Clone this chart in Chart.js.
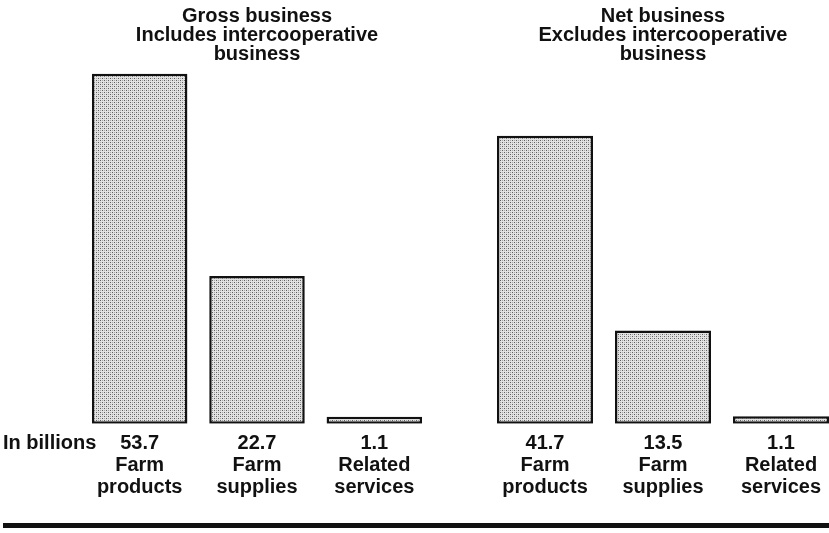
<!DOCTYPE html>
<html>
<head>
<meta charset="utf-8">
<script src="https://cdn.jsdelivr.net/npm/chart.js@4/dist/chart.umd.min.js"></script>
<style>
  html, body { margin: 0; padding: 0; background: #fff; overflow: hidden; }
  #wrap { position: relative; width: 829px; height: 533px; overflow: hidden; }
  #grossBox { position: absolute; left: 0; top: 0; width: 440px; height: 533px; }
  #netBox { position: absolute; left: 440px; top: 0; width: 400px; height: 533px; }
  #rule { position: absolute; left: 3px; top: 523px; width: 826px; height: 5px; background: #111; }
</style>
</head>
<body>
<div id="wrap">
  <div id="grossBox"><canvas id="grossChart"></canvas></div>
  <div id="netBox"><canvas id="netChart"></canvas></div>
  <div id="rule"></div>
</div>
<script>
"use strict";

const categories = [["Farm", "products"], ["Farm", "supplies"], ["Related", "services"]];
const grossValues = [53.7, 22.7, 1.1];
const netValues = [41.7, 13.5, 1.1];
const grossTitle = ["Gross business", "Includes intercooperative", "business"];
const netTitle = ["Net business", "Excludes intercooperative", "business"];
const unitLabel = "In billions";

Chart.defaults.font.family = "'Liberation Sans', Arial, sans-serif";
Chart.defaults.font.weight = "bold";
Chart.defaults.color = "#111";

// dotted screen fill like the printed original
function stipple() {
  const c = document.createElement("canvas");
  c.width = 4;
  c.height = 4;
  const g = c.getContext("2d");
  g.fillStyle = "#e2e2e2";
  g.fillRect(0, 0, 4, 4);
  g.fillStyle = "#5e5e5e";
  g.fillRect(0, 0, 1, 1);
  g.fillRect(2, 2, 1, 1);
  g.fillStyle = "#a8a8a8";
  g.fillRect(2, 0, 1, 1);
  g.fillRect(0, 2, 1, 1);
  return g.createPattern(c, "repeat");
}

const unitLabelPlugin = {
  id: "unitLabel",
  afterDraw(chart) {
    const ctx = chart.ctx;
    ctx.save();
    ctx.font = "bold 20px 'Liberation Sans', Arial, sans-serif";
    ctx.fillStyle = "#111";
    ctx.textAlign = "left";
    ctx.textBaseline = "middle";
    ctx.fillText(unitLabel, 3, chart.chartArea.bottom + 20);
    ctx.restore();
  },
};

function makeChart(id, values, title, yMax, padLeft, padRight, plugins) {
  const ctx = document.getElementById(id).getContext("2d");
  return new Chart(ctx, {
    type: "bar",
    data: {
      labels: categories.map((c, i) => [values[i].toFixed(1), ...c]),
      datasets: [
        {
          data: values,
          backgroundColor: stipple(),
          borderColor: "#111",
          borderWidth: 2.5,
          borderSkipped: false,
          barPercentage: 0.814,
          categoryPercentage: 1,
        },
      ],
    },
    options: {
      responsive: true,
      maintainAspectRatio: false,
      animation: false,
      layout: {
        padding: { left: padLeft, right: padRight, top: 0, bottom: 34 },
      },
      plugins: {
        legend: { display: false },
        tooltip: { enabled: false },
        title: {
          display: true,
          text: title,
          fullSize: false,
          color: "#111",
          font: { size: 20, weight: "bold", lineHeight: 0.95 },
          padding: { top: 7, bottom: 4 },
        },
      },
      scales: {
        x: {
          offset: true,
          grid: { display: false },
          border: { display: false },
          ticks: {
            color: "#111",
            autoSkip: false,
            maxRotation: 0,
            padding: 0,
            font: { size: 20, weight: "bold", lineHeight: 1.12 },
          },
        },
        y: {
          display: false,
          min: 0,
          max: yMax,
        },
      },
    },
    plugins: plugins,
  });
}

makeChart("grossChart", grossValues, grossTitle, 54.6, 81, 7, [unitLabelPlugin]);
makeChart("netChart", netValues, netTitle, 51.5, 46, 0, []);
</script>
</body>
</html>
